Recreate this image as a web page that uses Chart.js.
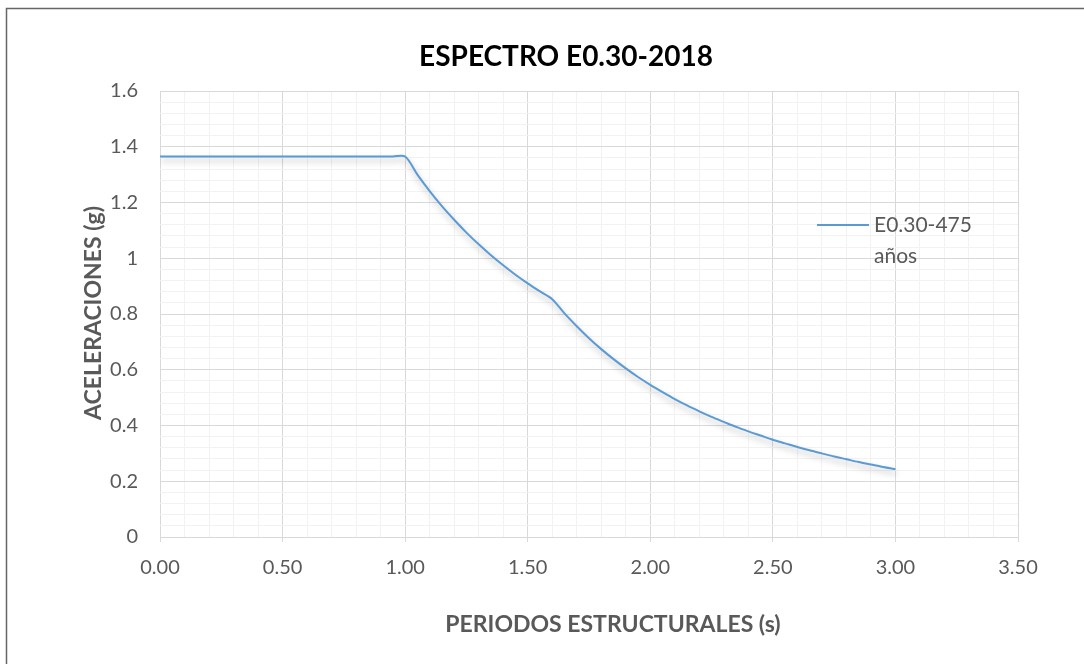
<!DOCTYPE html>
<html>
<head>
<meta charset="utf-8">
<script src="https://cdn.jsdelivr.net/npm/chart.js@4.4.1/dist/chart.umd.min.js"></script>
<style>
  html, body { margin: 0; padding: 0; background: #ffffff; }
  #wrap { width: 1084px; height: 664px; position: relative; }
</style>
</head>
<body>
<div id="wrap"><canvas id="espectro" width="1084" height="664"></canvas></div>
<script>
  //---------------------------------------------------
  // Data
  //---------------------------------------------------

  const chartTitle = "ESPECTRO E0.30-2018";
  const xTitle = "PERIODOS ESTRUCTURALES (s)";
  const yTitle = "ACELERACIONES (g)";
  const seriesName = ["E0.30-475", "años"];

  // periodo T (s)
  const periods = [
    0.00, 0.05, 0.10, 0.15, 0.20, 0.25, 0.30, 0.35, 0.40, 0.45,
    0.50, 0.55, 0.60, 0.65, 0.70, 0.75, 0.80, 0.85, 0.90, 0.95,
    1.00, 1.05, 1.10, 1.15, 1.20, 1.25, 1.30, 1.35, 1.40, 1.45,
    1.50, 1.55, 1.60, 1.65, 1.70, 1.75, 1.80, 1.85, 1.90, 1.95,
    2.00, 2.05, 2.10, 2.15, 2.20, 2.25, 2.30, 2.35, 2.40, 2.45,
    2.50, 2.55, 2.60, 2.65, 2.70, 2.75, 2.80, 2.85, 2.90, 2.95,
    3.00
  ];

  // aceleracion espectral Sa (g)
  const accel = [
    1.365, 1.365, 1.365, 1.365, 1.365, 1.365, 1.365, 1.365, 1.365, 1.365,
    1.365, 1.365, 1.365, 1.365, 1.365, 1.365, 1.365, 1.365, 1.365, 1.365,
    1.365, 1.300, 1.241, 1.187, 1.138, 1.092, 1.050, 1.011, 0.975, 0.941,
    0.910, 0.881, 0.853, 0.802, 0.756, 0.713, 0.674, 0.638, 0.605, 0.574,
    0.546, 0.520, 0.495, 0.472, 0.451, 0.431, 0.413, 0.395, 0.379, 0.364,
    0.349, 0.336, 0.323, 0.311, 0.300, 0.289, 0.279, 0.269, 0.260, 0.251,
    0.243
  ];

  // ejes
  const xMin = 0, xMax = 3.5, xMajor = 0.5, xMinor = 0.1;
  const yMin = 0, yMax = 1.6, yMajor = 0.2, yMinor = 0.04;

  //---------------------------------------------------
  // Helpers
  //---------------------------------------------------

  const FONT = "Lato, 'Open Sans', sans-serif";
  const GREY = "#595959";
  const LINE = "#5b9bd5";

  function isMajor(v, step) {
    const r = v / step;
    return Math.abs(r - Math.round(r)) < 1e-6;
  }

  const points = periods.map((t, i) => ({ x: t, y: accel[i] }));

  //---------------------------------------------------
  // Plugins
  //---------------------------------------------------

  // marco del grafico + textos (titulo, ejes, leyenda)
  const decor = {
    id: "decor",
    beforeDraw(chart) {
      const ctx = chart.ctx;
      ctx.save();
      ctx.fillStyle = "#ffffff";
      ctx.fillRect(0, 0, chart.width, chart.height);
      ctx.strokeStyle = "#666666";
      ctx.lineWidth = 1.5;
      ctx.strokeRect(6.5, 8.5, 1200, 1200);
      ctx.restore();
    },
    afterDraw(chart) {
      const ctx = chart.ctx;
      ctx.save();
      ctx.textBaseline = "middle";
      ctx.textAlign = "center";

      ctx.fillStyle = "#000000";
      ctx.font = "bold 28px " + FONT;
      ctx.fillText(chartTitle, 566, 57);

      ctx.fillStyle = GREY;
      ctx.font = "bold 23px " + FONT;
      ctx.fillText(xTitle, 613, 625);

      ctx.translate(94, 313);
      ctx.rotate(-Math.PI / 2);
      ctx.fillText(yTitle, 0, 0);
      ctx.restore();

      // leyenda
      ctx.save();
      ctx.strokeStyle = LINE;
      ctx.lineWidth = 2;
      ctx.beginPath();
      ctx.moveTo(817, 225);
      ctx.lineTo(869, 225);
      ctx.stroke();
      ctx.fillStyle = GREY;
      ctx.font = "21px " + FONT;
      ctx.textAlign = "left";
      ctx.textBaseline = "middle";
      ctx.fillText(seriesName[0], 874, 225);
      ctx.fillText(seriesName[1], 874, 256);
      ctx.restore();
    }
  };

  // sombra suave de la linea
  const lineShadow = {
    id: "lineShadow",
    beforeDatasetDraw(chart) {
      const ctx = chart.ctx;
      ctx.save();
      ctx.shadowColor = "rgba(0,0,0,0.28)";
      ctx.shadowBlur = 6;
      ctx.shadowOffsetX = 1;
      ctx.shadowOffsetY = 4;
    },
    afterDatasetDraw(chart) {
      chart.ctx.restore();
    }
  };

  //---------------------------------------------------
  // Chart
  //---------------------------------------------------

  const ctx = document.getElementById("espectro");

  const chart = new Chart(ctx, {
    type: "line",
    data: {
      datasets: [
        {
          label: seriesName.join(" "),
          data: points,
          borderColor: LINE,
          borderWidth: 2,
          pointRadius: 0,
          fill: false,
          tension: 0.3,
        },
      ],
    },
    options: {
      responsive: false,
      animation: false,
      layout: { padding: { top: 91, right: 66, left: 0, bottom: 0 } },
      plugins: {
        legend: { display: false },
        title: { display: false },
        tooltip: { enabled: false },
      },
      scales: {
        x: {
          type: "linear",
          min: xMin,
          max: xMax,
          afterFit(s) { s.height = 127; },
          ticks: {
            stepSize: xMinor,
            autoSkip: false,
            maxRotation: 0,
            padding: 14,
            color: GREY,
            font: { family: FONT, size: 20 },
            callback: (v) => (isMajor(v, xMajor) ? v.toFixed(2) : ""),
          },
          grid: {
            color: (c) => (isMajor(c.tick.value, xMajor) ? "#d9d9d9" : "#f2f2f2"),
            tickColor: (c) => (isMajor(c.tick.value, xMajor) ? "#d9d9d9" : "rgba(0,0,0,0)"),
            tickLength: 5,
            lineWidth: 1,
          },
          border: { color: "#d9d9d9" },
        },
        y: {
          min: yMin,
          max: yMax,
          afterFit(s) { s.width = 160; },
          ticks: {
            stepSize: yMinor,
            autoSkip: false,
            padding: 22,
            color: GREY,
            font: { family: FONT, size: 20 },
            callback: (v) => (isMajor(v, yMajor) ? String(Math.round(v * 10) / 10) : ""),
          },
          grid: {
            color: (c) => (isMajor(c.tick.value, yMajor) ? "#d9d9d9" : "#f2f2f2"),
            drawTicks: false,
            lineWidth: 1,
          },
          border: { display: false },
        },
      },
    },
    plugins: [decor, lineShadow],
  });
</script>
</body>
</html>
